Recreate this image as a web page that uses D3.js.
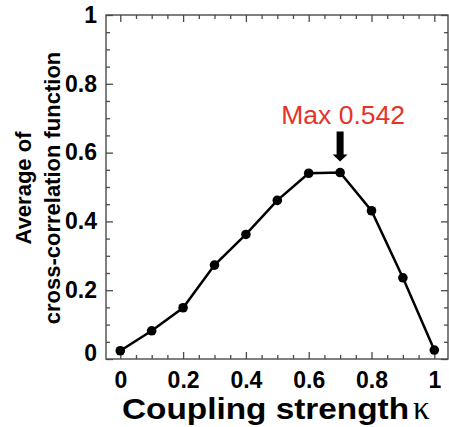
<!DOCTYPE html>
<html>
<head>
<meta charset="utf-8">
<script src="https://cdn.jsdelivr.net/npm/d3@7"></script>
<style>
  body { margin: 0; background: #fff; }
  svg { display: block; font-family: "Liberation Sans", Arial, sans-serif; }
</style>
</head>
<body>
<script>
// data
var kappa = [0, 0.1, 0.2, 0.3, 0.4, 0.5, 0.6, 0.7, 0.8, 0.9, 1.0];
var avgCorr = [0.024, 0.082, 0.149, 0.273, 0.362, 0.461, 0.540, 0.542, 0.431, 0.236, 0.026];
var xTicks = [0, 0.2, 0.4, 0.6, 0.8, 1];
var xTickLabels = ["0", "0.2", "0.4", "0.6", "0.8", "1"];
var yTicks = [0, 0.2, 0.4, 0.6, 0.8, 1];
var yTickLabels = ["0", "0.2", "0.4", "0.6", "0.8", "1"];
var maxLabel = "Max 0.542";
var maxIndex = 7;

var W = 449, H = 427;
var svg = d3.select('body').append('svg').attr('width', W).attr('height', H);

// plot frame (note: "top" is reserved on window, so use frame* names)
var frameL = 106, frameR = 448, frameT = 15, frameB = 359;
var x = d3.scaleLinear().domain([-0.0455, 1.0436]).range([frameL, frameR]);
var y = d3.scaleLinear().domain([0, 1]).range([frameB, frameT]);

var minorX = d3.range(0, 1.0001, 0.05).filter(function (v) { return Math.abs(v * 5 - Math.round(v * 5)) > 1e-6; });
var minorY = minorX.slice();
var frameColor = '#4a4a4a';

function styleAxis(g) {
  g.select('.domain').remove();
  g.selectAll('.tick line').attr('stroke', frameColor).attr('stroke-width', 1.3);
}

// minor ticks (all four sides, pointing in)
svg.append('g').attr('transform', 'translate(0,' + frameB + ')')
  .call(d3.axisBottom(x).tickValues(minorX).tickSize(-4).tickFormat(''))
  .call(styleAxis);
svg.append('g').attr('transform', 'translate(0,' + frameT + ')')
  .call(d3.axisTop(x).tickValues(minorX).tickSize(-4).tickFormat(''))
  .call(styleAxis);
svg.append('g').attr('transform', 'translate(' + frameL + ',0)')
  .call(d3.axisLeft(y).tickValues(minorY).tickSize(-4).tickFormat(''))
  .call(styleAxis);
svg.append('g').attr('transform', 'translate(' + frameR + ',0)')
  .call(d3.axisRight(y).tickValues(minorY).tickSize(-4).tickFormat(''))
  .call(styleAxis);

// major ticks with labels
var xAxis = svg.append('g').attr('transform', 'translate(0,' + frameB + ')')
  .call(d3.axisBottom(x).tickValues(xTicks).tickSize(-7).tickPadding(13)
    .tickFormat(function (d, i) { return xTickLabels[i]; }))
  .call(styleAxis);
svg.append('g').attr('transform', 'translate(0,' + frameT + ')')
  .call(d3.axisTop(x).tickValues(xTicks).tickSize(-7).tickFormat(''))
  .call(styleAxis);
var yAxis = svg.append('g').attr('transform', 'translate(' + frameL + ',0)')
  .call(d3.axisLeft(y).tickValues(yTicks).tickSize(-7).tickPadding(9)
    .tickFormat(function (d, i) { return yTickLabels[i]; }))
  .call(styleAxis);
svg.append('g').attr('transform', 'translate(' + frameR + ',0)')
  .call(d3.axisRight(y).tickValues(yTicks).tickSize(-7).tickFormat(''))
  .call(styleAxis);

[xAxis, yAxis].forEach(function (g) {
  g.selectAll('.tick text')
    .attr('fill', '#000')
    .style('font-family', '"Liberation Sans", Arial, sans-serif')
    .style('font-size', '23px')
    .style('font-weight', 'bold');
});
// the "0" on the y axis sits a little higher in the figure
yAxis.selectAll('.tick text').filter(function (d) { return d === 0; }).attr('dy', '0.05em');

// frame
svg.append('rect')
  .attr('x', frameL).attr('y', frameT)
  .attr('width', frameR - frameL).attr('height', frameB - frameT)
  .attr('fill', 'none').attr('stroke', frameColor).attr('stroke-width', 1.4);

// data line + points
var pts = kappa.map(function (k, i) { return [k, avgCorr[i]]; });
svg.append('path')
  .datum(pts)
  .attr('fill', 'none')
  .attr('stroke', '#000')
  .attr('stroke-width', 2.5)
  .attr('d', d3.line().x(function (d) { return x(d[0]); }).y(function (d) { return y(d[1]); }));

svg.append('g').selectAll('circle')
  .data(pts).enter().append('circle')
  .attr('cx', function (d) { return x(d[0]); })
  .attr('cy', function (d) { return y(d[1]); })
  .attr('r', 4.8)
  .attr('fill', '#000');

// max annotation
var ax = x(kappa[maxIndex]), ay = y(avgCorr[maxIndex]);
svg.append('path')
  .attr('d', 'M' + (ax - 3.5) + ',' + (ay - 41) + 'H' + (ax + 3.5) + 'V' + (ay - 18) +
    'H' + (ax + 7.5) + 'L' + ax + ',' + (ay - 11) + 'L' + (ax - 7.5) + ',' + (ay - 18) +
    'H' + (ax - 3.5) + 'Z')
  .attr('fill', '#000');
svg.append('text')
  .attr('x', ax + 3).attr('y', ay - 49)
  .attr('text-anchor', 'middle')
  .attr('fill', '#e5332a')
  .style('font-size', '26.5px')
  .text(maxLabel);

// axis titles
var xt = svg.append('text')
  .attr('y', 419)
  .style('font-size', '30px')
  .style('font-weight', 'bold');
xt.append('tspan').attr('x', 122)
  .attr('textLength', 287).attr('lengthAdjust', 'spacingAndGlyphs')
  .text('Coupling strength');
xt.append('tspan')
  .attr('x', 413)
  .style('font-family', '"Liberation Serif", "DejaVu Serif", serif')
  .style('font-weight', 'normal')
  .style('font-size', '33px')
  .text('\u03BA');

var yt = svg.append('text')
  .attr('transform', 'translate(0,188) rotate(-90)')
  .attr('text-anchor', 'middle')
  .style('font-size', '22px')
  .style('font-weight', 'bold');
yt.append('tspan').attr('x', 0).attr('y', 31).text('Average of');
yt.append('tspan').attr('x', 0).attr('y', 60).text('cross-correlation function');
</script>
</body>
</html>
